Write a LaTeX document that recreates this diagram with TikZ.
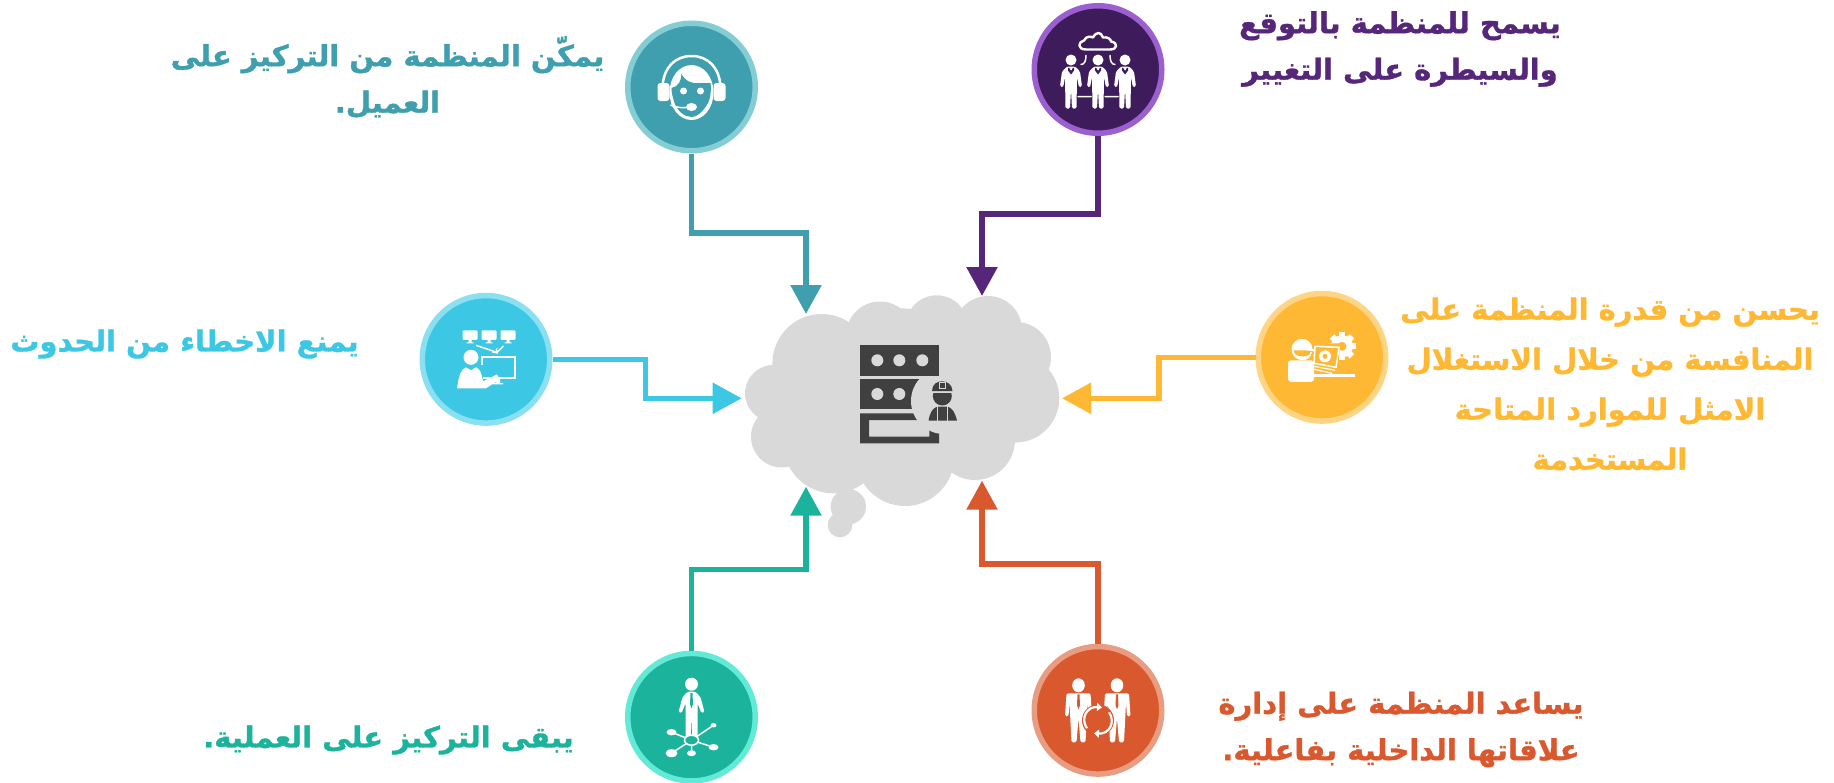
\documentclass[tikz,border=0pt]{standalone}
\usepackage{fontspec}
\newfontfamily\arabicfont[Script=Arabic,BoldFeatures={FakeBold=1.2}]{DejaVu Sans}
\TeXXeTstate=1
\usetikzlibrary{arrows.meta}
\definecolor{tealfill}{HTML}{3F9FAF}
\definecolor{tealring}{HTML}{85CDD4}
\definecolor{purpfill}{HTML}{3E1C5C}
\definecolor{purpring}{HTML}{9B5FD0}
\definecolor{purpline}{HTML}{55267A}
\definecolor{cyanfill}{HTML}{3CC8E4}
\definecolor{cyanring}{HTML}{8ADFF0}
\definecolor{yellfill}{HTML}{FFB833}
\definecolor{yellring}{HTML}{FFD484}
\definecolor{grenfill}{HTML}{1BB39B}
\definecolor{grenring}{HTML}{62EAD6}
\definecolor{oranfill}{HTML}{D9582D}
\definecolor{oranring}{HTML}{E89C82}
\definecolor{cloudgray}{HTML}{D9D9D9}
\definecolor{darkicon}{HTML}{404040}
\tikzset{
  ring/.style={circle,inner sep=0pt,minimum size=127.5pt,line width=5.5pt},
  conn/.style={line width=5.6pt,-{Triangle[length=29pt,width=30pt]}},
  arlabel/.style={align=center,inner sep=0pt,
    font=\arabicfont\bfseries\fontsize{29}{#1}\selectfont},
  arlabel/.default=46.5,
}
\newcommand{\rl}[1]{\beginR #1\endR}
\begin{document}
\begin{tikzpicture}[x=1pt,y=-1pt]
\useasboundingbox (0,0) rectangle (1834,782);
% cloud
\foreach \cx/\cy/\cr in {821.7/363.3/49.3,880/335.5/34,936.7/326.3/31,988/330/34,1016/357/35,1015/398.3/44.3,975/440/40,905/456.7/49.3,833.3/443.3/50,781.7/436.7/30.7,773.3/393.3/28.3,900/393.3/85,820/400/40,960/380/55,848.3/506.7/17.7,840/525/12.3}
  \fill[cloudgray] (\cx,\cy) circle (\cr);
% server
\fill[darkicon] (860,379.3) rectangle (939,409);
\fill[darkicon,even odd rule] (860,413.3) rectangle (939,443.3) (869,420) rectangle (929.3,436.7);
\fill[cloudgray] (944,401) circle (33);
\fill[cloudgray] (919,395) rectangle (945,426);
\fill[cloudgray] (925,420) rectangle (945,426);
\fill[darkicon] (860,345) rectangle (939,375.7);
\foreach \dx/\dy in {877.3/360.3,899.3/360.3,922.3/360.3,877.3/394,899.3/394}
  \fill[cloudgray] (\dx,\dy) circle (6);
% worker
\fill[darkicon] (942.3,396) circle (9.5);
\fill[cloudgray] (931,391) rectangle (954,393);
\fill[darkicon] (932,391) .. controls (932,378) and (952,378) .. (952.5,391) -- cycle;
\fill[darkicon] (928.5,420.7) .. controls (930,412) and (933,407.5) .. (938,406.5) -- (947,406.5) .. controls (952,407.5) and (955,412) .. (957,420.7) -- cycle;
\draw[cloudgray,line width=0.7pt] (937,406) -- (937,420.7) (947.5,406) -- (947.5,420.7) (939,382) rectangle (945.5,388);
% circles
\node[ring,draw=tealring,fill=tealfill] (ringteal) at (691.5,87) {};
\node[ring,draw=purpring,fill=purpfill] (ringpurp) at (1098,69.5) {};
\node[ring,draw=cyanring,fill=cyanfill] (ringcyan) at (486,359.3) {};
\node[ring,draw=yellring,fill=yellfill] (ringyell) at (1322,357.3) {};
\node[ring,draw=grenring,fill=grenfill] (ringgren) at (691.5,717.2) {};
\node[ring,draw=oranring,fill=oranfill] (ringoran) at (1098,710.3) {};
% elbows and tips
\coordinate (tealknee) at (806,233);
\coordinate (tealtip) at (806,314);
\coordinate (purpknee) at (982,214);
\coordinate (purptip) at (982,296);
\coordinate (cyanknee) at (645.6,398.3);
\coordinate (cyantip) at (741.7,398.3);
\coordinate (yellknee) at (1159,398.3);
\coordinate (yelltip) at (1062,398.3);
\coordinate (grenknee) at (806,569.6);
\coordinate (grentip) at (806,486.7);
\coordinate (oranknee) at (982,564);
\coordinate (orantip) at (982,480.7);
\draw[conn,tealfill] (ringteal.south) |- (tealknee) -- (tealtip);
\draw[conn,purpline] (ringpurp.south) |- (purpknee) -- (purptip);
\draw[conn,cyanfill] (ringcyan.east) -| (cyanknee) -- (cyantip);
\draw[conn,yellfill] (ringyell.west) -| (yellknee) -- (yelltip);
\draw[conn,grenfill] (ringgren.north) |- (grenknee) -- (grentip);
\draw[conn,oranfill] (ringoran.north) |- (oranknee) -- (orantip);
% headset
\begin{scope}[shift={(ringteal.center)}]
\fill[white] (0,5.5) ellipse (22 and 27.5);
\fill[tealfill] (-20,1) .. controls (-13,0) and (-10,-7) .. (-10,-13) .. controls (-6,-5) and (2,-3) .. (8,-4) -- (19,-4) .. controls (20,4) and (19,14) .. (14,20) .. controls (10,26) and (5,30) .. (0,30) .. controls (-7,30) and (-14,24) .. (-17,16) .. controls (-19,10) and (-20,5) .. cycle;
\draw[white,line width=2.5pt] (-29,0) .. controls (-28,-20) and (-16,-31) .. (0,-31) .. controls (16,-31) and (28,-20) .. (29,0);
\fill[white,rounded corners=3pt] (-34,-4) rectangle (-22,14) (22,-4) rectangle (34,14);
\fill[white] (-8,4) circle (3.5) (9,4) circle (3.5);
\draw[white,line width=1.5pt] (-21,18) .. controls (-15,21) and (-8,21) .. (0,20);
\fill[white] (0,20) ellipse (5.5 and 4);
\end{scope}
% team under cloud
\begin{scope}[shift={(ringpurp.center)}]
\draw[white,line width=2.4pt,line join=round] (-12,-20) .. controls (-21,-20) and (-20,-28) .. (-14,-29) .. controls (-12,-34) and (-6,-33) .. (-5,-32) .. controls (-2,-38) and (3,-38) .. (5,-32) .. controls (10,-33) and (13,-30) .. (13,-28) .. controls (20,-27) and (20,-20) .. (12,-20) -- cycle;
\draw[white,line width=1.5pt,line cap=round] (-12,-14) .. controls (-12,-8) and (-14,-5) .. (-17,-5) (12,-14) .. controls (12,-8) and (14,-5) .. (17,-5) (-20,27) -- (-7,27) (7,27) -- (20,27);
\foreach \px in {-27,0,27}{
  \fill[white] (\px,-9.5) circle (5.5);
  \fill[white,rounded corners=1.5pt] (\px-4,-3) -- (\px+4,-3) -- (\px+9,2) -- (\px+11,17) -- (\px+8,18) -- (\px+6,8) -- (\px+5.5,39) -- (\px+1,39) -- (\px,20) -- (\px-1,39) -- (\px-5.5,39) -- (\px-6,8) -- (\px-8,18) -- (\px-11,17) -- (\px-9,2) -- cycle;
  \fill[purpfill] (\px-3,-2) -- (\px,0) -- (\px+3,-2) -- (\px+3,1) -- (\px,5) -- (\px-3,1) -- cycle;
  \fill[white] (\px,0) circle (1);
}
\end{scope}
% presenter with monitors
\begin{scope}[shift={(ringcyan.center)}]
\foreach \px in {-16,3,22}{
  \fill[white,rounded corners=1pt] (\px-7.5,-29) rectangle (\px+7.5,-19.5);
  \fill[white] (\px-1.5,-19.5) rectangle (\px+1.5,-17) (\px-3.5,-17) rectangle (\px+3.5,-16);
}
\draw[white,line width=1.5pt] (-10,-14) -- (11,-7) (17.5,-13.5) -- (11,-7);
\draw[white,line width=1.5pt] (10.5,-11) -- (11,-6.5) -- (6,-7.5);
\draw[white,line width=2pt] (-4,-2) rectangle (29,19);
\fill[white] (10,19) rectangle (14,24) (7,23.5) rectangle (17,25);
\fill[white] (-15,-2) circle (7.5);
\fill[cyanfill] (-8,6) rectangle (-3,29);
\fill[white] (-29,29) .. controls (-27,15) and (-25,10) .. (-20,8) -- (-15,11) -- (-10,8) .. controls (-6,10) and (-5,12) .. (-3,22) -- (11,15) -- (14,20) -- (0,29) -- cycle;
\end{scope}
% engineer with gear
\begin{scope}[shift={(ringyell.center)}]
\foreach \ang in {0,45,...,315}
  \fill[white,rotate around={\ang:(20,-11)}] (17,-25) rectangle (23,3);
\fill[white] (20,-11) circle (11);
\fill[yellfill] (20,-11) circle (4.5);
\fill[yellfill] (-8,-14) -- (18,-14) -- (16,12) -- (-8,12) -- cycle;
\draw[white,line width=1.5pt,fill=yellfill] (-7,-11) -- (17,-10) -- (14,10) -- (-8,6) -- cycle;
\draw[white,line width=1.2pt] (-8,9) -- (13,13) (-8,12) -- (10,16);
\fill[white] (3,-1) circle (6);
\fill[yellfill] (3,-1) circle (2.5);
\fill[white] (-20,-8) circle (10.5);
\fill[yellfill] (-29,-7) -- (-9,-7) -- (-12,-3) .. controls (-15,0) and (-25,0) .. (-28,-4) -- cycle;
\draw[white,line width=1.3pt] (-29,-7) .. controls (-28,5) and (-12,5) .. (-11,-5);
\fill[white] (-30,-9) -- (-7,-6) -- (-7,-8) -- (-30,-11) -- cycle;
\fill[white,rounded corners=3pt] (-34,24.5) rectangle (-8,3);
\fill[white] (-8,17) rectangle (33,20);
\end{scope}
% person on network
\begin{scope}[shift={(ringgren.center)}]
\fill[white] (0,-33) circle (6.5);
\fill[white,rounded corners=1.5pt] (-4,-25.5) -- (4,-25.5) -- (9,-20) -- (13,-5) -- (10,-4) -- (6,-14) -- (6,23) -- (1,23) -- (0,0) -- (-1,23) -- (-6,23) -- (-6,-14) -- (-10,-4) -- (-13,-5) -- (-9,-20) -- cycle;
\fill[grenfill] (-1,-24) -- (1,-24) -- (1.5,-13) -- (0,-9) -- (-1.5,-13) -- cycle;
\draw[white,line width=1.5pt] (-20,15) -- (0,23) -- (22,8) (0,23) -- (22,30) (0,23) -- (-20,36) (0,23) -- (0,36);
\draw[white,line width=1.5pt,fill=grenfill] (0,23) ellipse (7 and 5);
\fill[white] (-20,15) ellipse (5 and 3.2) (22,8) ellipse (3 and 2.2) (22,30) ellipse (5 and 3.2) (-20,36) ellipse (6 and 4) (0,36) ellipse (4.5 and 3);
\end{scope}
% two men with cycle
\begin{scope}[shift={(ringoran.center)}]
\foreach \px in {-19.5,19}{
  \fill[white] (\px,-25) ellipse (6.3 and 7);
  \fill[white,rounded corners=1.5pt] (\px-12,-17) -- (\px+12,-17) -- (\px+13.5,6) -- (\px+10,6) -- (\px+9,-8) -- (\px+7,32) -- (\px+2,32) -- (\px,8) -- (\px-2,32) -- (\px-7,32) -- (\px-9,-8) -- (\px-10,6) -- (\px-13.5,6) -- cycle;
  \fill[oranfill] (\px-1,-16) -- (\px+1,-16) -- (\px+1.5,-5) -- (\px,-1) -- (\px-1.5,-5) -- cycle;
}
\fill[oranfill] (0,10) circle (16);
\draw[white,line width=2.2pt,-{Triangle[length=5pt,width=8pt]}] (-11,18) .. controls (-18,8) and (-11,-4) .. (4,-3);
\draw[white,line width=2.2pt,-{Triangle[length=5pt,width=8pt]}] (11,2) .. controls (18,12) and (11,24) .. (-4,23);
\end{scope}
% labels
\node[arlabel,tealfill] (txtteal) at (387.5,77) {\rl{يمكّن المنظمة من التركيز على}\\\rl{العميل.}};
\node[arlabel,purpline] (txtpurp) at (1400,49) {\rl{يسمح للمنظمة بالتوقع}\\\rl{والسيطرة على التغيير}};
\node[arlabel,cyanfill] (txtcyan) at (184.5,344) {\rl{يمنع الاخطاء من الحدوث}};
\node[arlabel=50,yellfill] (txtyell) at (1610,384) {\rl{يحسن من قدرة المنظمة على}\\\rl{المنافسة من خلال الاستغلال}\\\rl{الامثل للموارد المتاحة}\\\rl{المستخدمة}};
\node[arlabel,grenfill] (txtgren) at (388.5,740) {\rl{يبقى التركيز على العملية.}};
\node[arlabel,oranfill] (txtoran) at (1401,729.5) {\rl{يساعد المنظمة على إدارة}\\\rl{علاقاتها الداخلية بفاعلية.}};
\end{tikzpicture}
\end{document}
